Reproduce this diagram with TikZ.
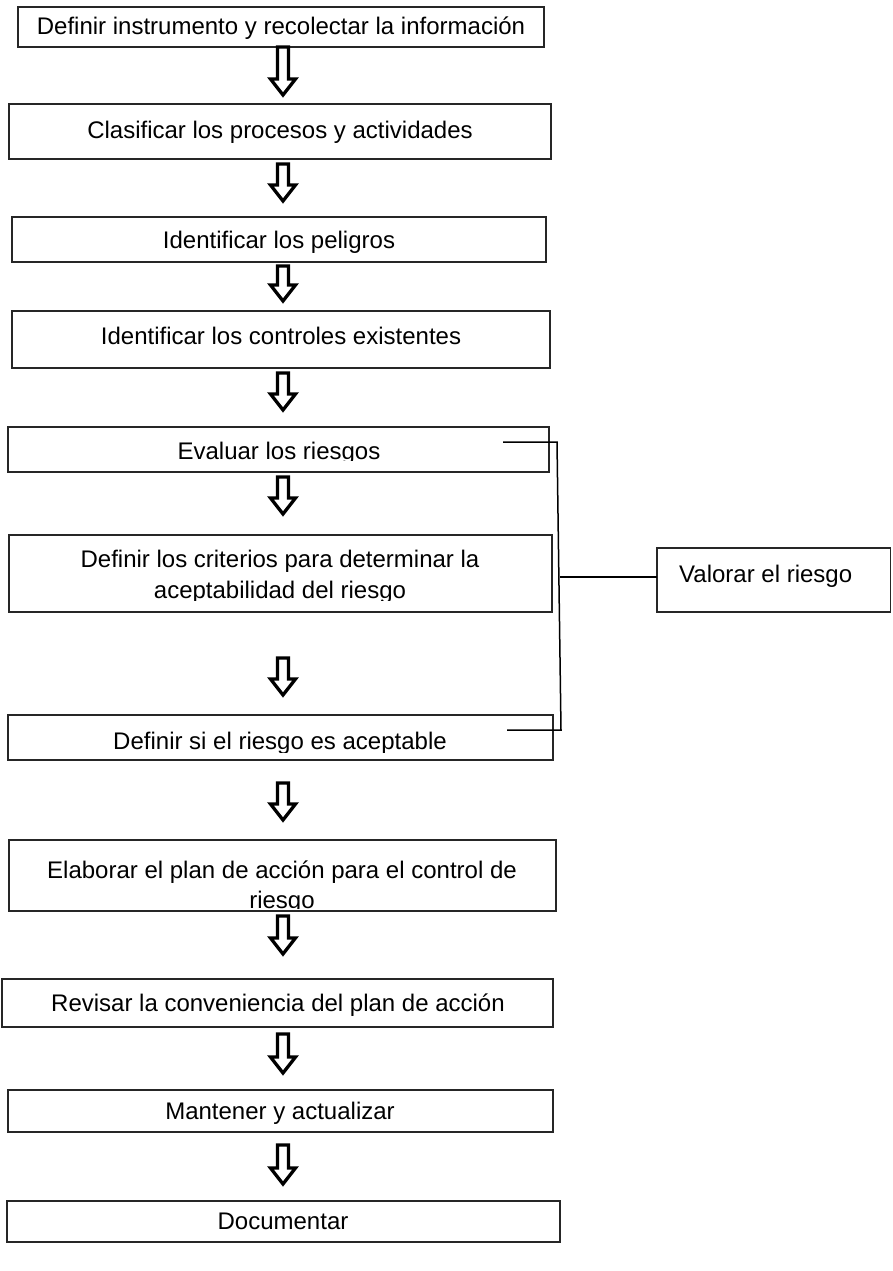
\documentclass[tikz,border=0pt]{standalone}
\usepackage{fontspec}
\setmainfont{Liberation Sans}
\begin{document}
\begin{tikzpicture}[x=1pt,y=-1pt,
  box/.style={draw=black!85, line width=1.3pt, inner sep=0pt, outer sep=0pt},
  lbl/.style={font=\fontsize{24}{30.5}\selectfont, inner sep=0pt, align=center},
  conn/.style={draw=black, line width=1.5pt},
  arrowline/.style={draw=black, line width=3.3pt, fill=white, line join=miter},
  pics/blockarrow/.style={code={\path[arrowline] (-5.5,0) -- (5.5,0) -- (5.5,#1) -- (12.5,#1) -- (0,#1+16) -- (-12.5,#1) -- (-5.5,#1) -- cycle;}}
]
\useasboundingbox (0,0) rectangle (892,1271);

% boxes
\node[box, minimum width=526pt, minimum height=40pt] (b1) at (281,27) {};
\node[box, minimum width=542pt, minimum height=55pt] (b2) at (280,131.5) {};
\node[box, minimum width=534pt, minimum height=45pt] (b3) at (279,239.5) {};
\node[box, minimum width=538pt, minimum height=57pt] (b4) at (281,339.5) {};
\node[box, minimum width=541pt, minimum height=45pt] (b5) at (278.5,449.5) {};
\node[box, minimum width=543pt, minimum height=77pt] (b6) at (280.5,573.5) {};
\node[box, minimum width=545pt, minimum height=45pt] (b7) at (280.5,737.5) {};
\node[box, minimum width=547pt, minimum height=71pt] (b8) at (282.5,875.5) {};
\node[box, minimum width=551pt, minimum height=48pt] (b9) at (277.5,1003) {};
\node[box, minimum width=545pt, minimum height=42pt] (b10) at (280.5,1111) {};
\node[box, minimum width=553pt, minimum height=41pt] (b11) at (283.5,1221.5) {};
\node[box, minimum width=233.5pt, minimum height=64pt] (v) at (773.75,580) {};

% texts
\node[lbl, anchor=base] (t1) at (281,35) {Definir instrumento y recolectar la información};
\node[lbl, anchor=base] (t2) at (280,139) {Clasificar los procesos y actividades};
\node[lbl, anchor=base] (t3) at (279,248) {Identificar los peligros};
\node[lbl, anchor=base] (t4) at (281,344) {Identificar los controles existentes};
\begin{scope}
  \clip (b5.north west) rectangle ([yshift=12pt]b5.south east);
  \node[lbl, anchor=base] (t5) at (279,459) {Evaluar los riesgos};
\end{scope}
\begin{scope}
  \clip (b6.north west) rectangle ([yshift=12pt]b6.south east);
  \node[lbl] (t6) at (280,577) {Definir los criterios para determinar la\\aceptabilidad del riesgo};
\end{scope}
\begin{scope}
  \clip (b7.north west) rectangle ([yshift=8pt]b7.south east);
  \node[lbl, anchor=base] (t7) at (280,749) {Definir si el riesgo es aceptable};
\end{scope}
\begin{scope}
  \clip (b8.north west) rectangle ([yshift=3pt]b8.south east);
  \node[lbl] (t8) at (282,887) {Elaborar el plan de acción para el control de\\riesgo};
\end{scope}
\node[lbl, anchor=base] (t9) at (278,1011) {Revisar la conveniencia del plan de acción};
\node[lbl, anchor=base] (t10) at (280,1119) {Mantener y actualizar};
\node[lbl, anchor=base] (t11) at (283,1229) {Documentar};
\node[lbl, anchor=base west] (tv) at (679,582) {Valorar el riesgo};

% block arrows
\coordinate (a1) at (283,47);
\coordinate (a2) at (283,164);
\coordinate (a3) at (283,266);
\coordinate (a4) at (283,373);
\coordinate (a5) at (283,477);
\coordinate (a6) at (283,658);
\coordinate (a7) at (283,783);
\coordinate (a8) at (283,916);
\coordinate (a9) at (283,1034);
\coordinate (a10) at (283,1145);
\pic at (a1) {blockarrow=32};
\pic at (a2) {blockarrow=21};
\pic at (a3) {blockarrow=19};
\pic at (a4) {blockarrow=21};
\pic at (a5) {blockarrow=21};
\pic at (a6) {blockarrow=21};
\pic at (a7) {blockarrow=21};
\pic at (a8) {blockarrow=22};
\pic at (a9) {blockarrow=23};
\pic at (a10) {blockarrow=23};

% bracket
\coordinate (k1) at (503,442);
\coordinate (k2) at (557,442);
\coordinate (k3) at (561,730);
\coordinate (k4) at (507,730);
\coordinate (k5) at (560,577);
\draw[conn] (k1) -- (k2) -- (k3) -- (k4);
\draw[conn] (k5) -- (v.west |- k5);
\end{tikzpicture}
\end{document}
